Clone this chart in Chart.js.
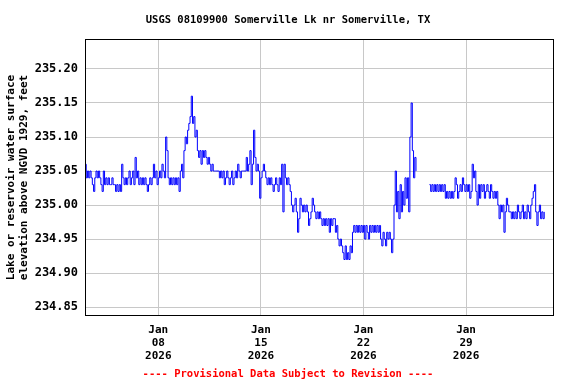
<!DOCTYPE html>
<html>
<head>
<meta charset="utf-8">
<script src="https://cdn.jsdelivr.net/npm/chart.js@4/dist/chart.umd.min.js"></script>
<style>
  html, body { margin: 0; padding: 0; background: #fff; }
  #wrap { width: 576px; height: 384px; }
</style>
</head>
<body>
<div id="wrap"><canvas id="c" width="576" height="384"></canvas></div>
<script>
// ---- Data ----
const chartTitle = "USGS 08109900 Somerville Lk nr Somerville, TX";
const footerText = "---- Provisional Data Subject to Revision ----";
const yAxisTitle = ["Lake or reservoir water surface", "elevation above NGVD 1929, feet"];

// hours since 2026-01-03 00:00 for the axis window and the date ticks
const axisStartHour = 0;
const axisEndHour = 768;            // 2026-02-04 00:00
const dateTickHours = [120, 288, 456, 624];
const dateTickLabels = [["Jan", "08", "2026"], ["Jan", "15", "2026"], ["Jan", "22", "2026"], ["Jan", "29", "2026"]];
const elevationTicks = [234.85, 234.90, 234.95, 235.00, 235.05, 235.10, 235.15, 235.20];

// one reading every 2 hours starting 2026-01-03 00:00 (one row per day)
const stepHours = 2;
const elevationFt = [
  235.06,235.04,235.05,235.04,235.05,235.04,235.03,235.02,235.04,235.05,235.04,235.05,
  235.04,235.03,235.02,235.05,235.03,235.04,235.03,235.04,235.03,235.03,235.04,235.03,
  235.03,235.02,235.03,235.02,235.03,235.02,235.06,235.04,235.03,235.04,235.03,235.04,
  235.05,235.03,235.04,235.05,235.03,235.07,235.04,235.05,235.03,235.04,235.03,235.04,
  235.03,235.04,235.03,235.02,235.03,235.04,235.03,235.04,235.06,235.04,235.05,235.03,
  235.04,235.05,235.04,235.06,235.05,235.04,235.10,235.08,235.04,235.03,235.04,235.03,
  235.04,235.03,235.04,235.03,235.04,235.02,235.05,235.06,235.04,235.08,235.10,235.09,
  235.11,235.12,235.13,235.16,235.12,235.13,235.10,235.11,235.08,235.07,235.08,235.06,
  235.08,235.07,235.08,235.07,235.06,235.07,235.06,235.05,235.06,235.05,235.05,235.05,
  235.05,235.05,235.04,235.05,235.04,235.05,235.03,235.04,235.05,235.04,235.03,235.04,
  235.05,235.03,235.04,235.05,235.04,235.06,235.05,235.04,235.05,235.05,235.05,235.05,
  235.07,235.05,235.06,235.08,235.03,235.06,235.11,235.07,235.05,235.06,235.05,235.01,
  235.04,235.05,235.06,235.05,235.04,235.03,235.04,235.03,235.04,235.03,235.02,235.03,
  235.04,235.03,235.02,235.04,235.03,235.06,234.99,235.06,235.04,235.03,235.04,235.03,
  235.02,235.00,234.99,235.00,235.01,234.99,234.96,234.98,235.01,235.00,234.99,235.00,
  234.99,235.00,234.99,234.97,234.98,234.99,235.01,235.00,234.99,234.98,234.99,234.98,
  234.99,234.98,234.97,234.98,234.97,234.98,234.97,234.98,234.96,234.98,234.97,234.98,
  234.98,234.96,234.97,234.95,234.94,234.95,234.94,234.93,234.92,234.94,234.92,234.93,
  234.92,234.94,234.93,234.96,234.97,234.96,234.97,234.96,234.97,234.96,234.97,234.96,
  234.97,234.95,234.97,234.96,234.95,234.97,234.96,234.97,234.96,234.97,234.96,234.97,
  234.96,234.97,234.95,234.94,234.96,234.95,234.94,234.96,234.95,234.96,234.95,234.93,
  234.95,235.00,235.05,234.99,235.02,234.98,235.03,234.99,235.02,235.00,235.04,235.01,
  235.04,234.99,235.10,235.15,235.08,235.04,235.07,235.05,null,null,null,null,
  null,null,null,null,null,null,235.03,235.02,235.03,235.02,235.03,235.02,
  235.03,235.02,235.03,235.02,235.03,235.02,235.03,235.01,235.02,235.01,235.02,235.01,
  235.02,235.01,235.02,235.04,235.03,235.01,235.02,235.03,235.02,235.04,235.03,235.02,
  235.03,235.02,235.03,235.01,235.02,235.06,235.04,235.05,235.02,235.00,235.03,235.01,
  235.03,235.02,235.03,235.01,235.02,235.03,235.02,235.01,235.03,235.02,235.01,235.02,
  235.01,235.02,235.00,234.98,235.00,234.99,235.00,234.96,234.99,235.01,235.00,234.99,
  234.99,234.98,234.99,234.98,234.99,234.98,235.00,234.99,234.98,234.99,235.00,234.98,
  234.99,234.98,235.00,234.99,234.98,235.00,235.01,235.02,235.03,234.99,234.97,234.99,
  235.00,234.98,234.99,234.98,234.99
];

// ---- Chart ----
const points = elevationFt.map((v, i) => ({ x: i * stepHours, y: v }));
const monoBold = (size, lh) => ({ family: "'DejaVu Sans Mono', 'Liberation Mono', monospace", weight: 'bold', size: size, lineHeight: lh });

const framePlugin = {
  id: 'frame',
  afterDatasetsDraw(chart) {
    const a = chart.chartArea, ctx = chart.ctx;
    ctx.save();
    ctx.strokeStyle = '#000';
    ctx.lineWidth = 1;
    ctx.strokeRect(Math.round(a.left) + 0.5, Math.round(a.top) + 0.5,
                   Math.round(a.right - a.left) - 1, Math.round(a.bottom - a.top) - 1);
    ctx.restore();
  }
};

new Chart(document.getElementById('c'), {
  type: 'line',
  data: {
    datasets: [{
      data: points,
      borderColor: '#0000FF',
      borderWidth: 1,
      pointRadius: 0,
      stepped: true,
      spanGaps: false,
      fill: false
    }]
  },
  options: {
    responsive: false,
    animation: false,
    devicePixelRatio: 1,
    layout: { padding: { left: 0, right: 0, top: 0, bottom: 0 } },
    plugins: {
      legend: { display: false },
      tooltip: { enabled: false },
      title: {
        display: true, text: chartTitle, color: '#000',
        font: monoBold(10.5, 1.2), padding: { top: 14, bottom: 12.4 }
      },
      subtitle: {
        display: true, position: 'bottom', text: footerText, color: '#FF0000',
        font: monoBold(10.5, 1.2), padding: { top: 0, bottom: 3 }
      }
    },
    scales: {
      x: {
        type: 'linear', min: axisStartHour, max: axisEndHour,
        border: { display: false },
        grid: { color: '#C8C8C8', lineWidth: 1, drawTicks: false },
        ticks: {
          color: '#000', font: monoBold(11, 13 / 11), padding: 7.5,
          maxRotation: 0, autoSkip: false,
          callback: (v) => dateTickLabels[dateTickHours.indexOf(v)] || ''
        },
        afterBuildTicks: (s) => { s.ticks = dateTickHours.map(v => ({ value: v })); },
        afterFit: (s) => { s.height = 52.4; }
      },
      y: {
        type: 'linear', min: 234.837, max: 235.244,
        border: { display: false },
        grid: { color: '#C8C8C8', lineWidth: 1, drawTicks: false },
        ticks: {
          color: '#000', font: monoBold(12, 1.2), padding: 7,
          callback: (v) => Number(v).toFixed(2)
        },
        afterBuildTicks: (s) => { s.ticks = elevationTicks.map(v => ({ value: v })); },
        afterFit: (s) => { s.width = 85; },
        title: {
          display: true, text: yAxisTitle, color: '#000',
          font: monoBold(11, 13 / 11), padding: { top: 5, bottom: 0 }
        }
      },
      yRight: {
        type: 'linear', position: 'right', min: 234.837, max: 235.244,
        border: { display: false },
        grid: { display: false, drawTicks: false },
        ticks: { display: false },
        afterFit: (s) => { s.width = 22; }
      }
    }
  },
  plugins: [framePlugin]
});
</script>
</body>
</html>
